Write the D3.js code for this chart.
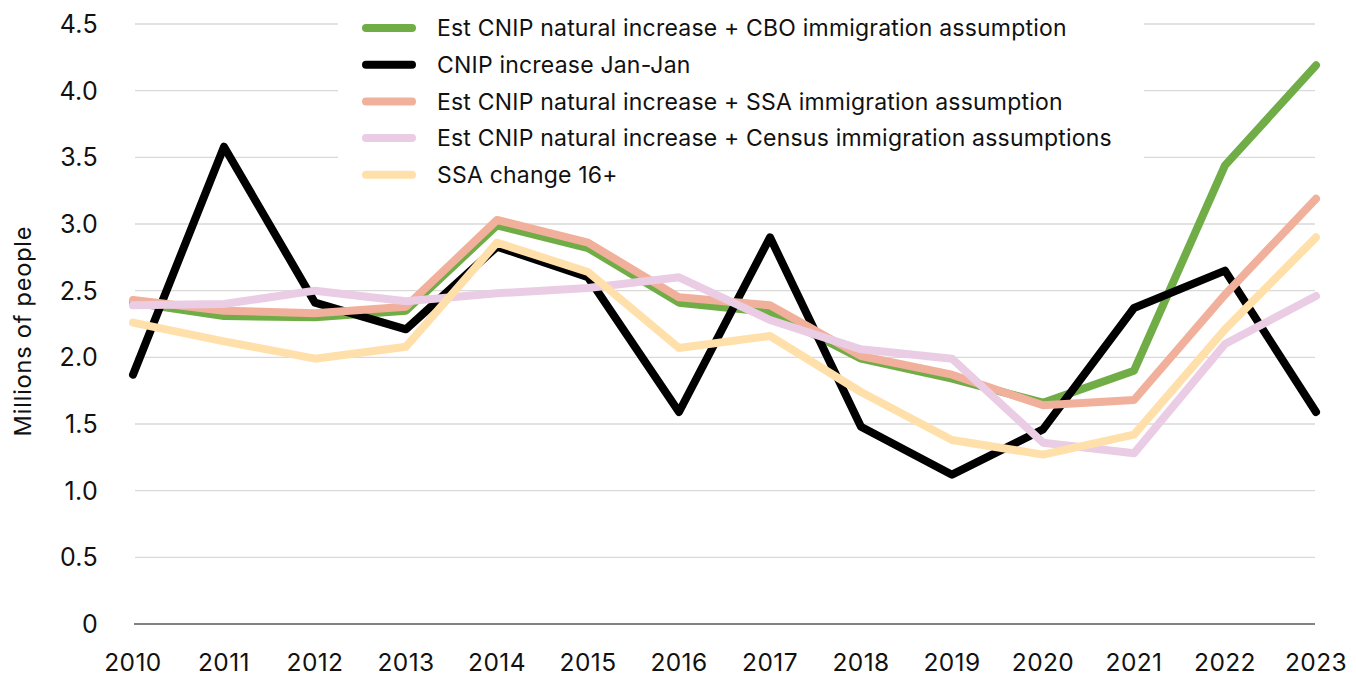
<!DOCTYPE html>
<html>
<head>
<meta charset="utf-8">
<script src="https://cdn.jsdelivr.net/npm/d3@7"></script>
<style>
  body { margin: 0; background: #fff; }
  svg { display: block; }
</style>
</head>
<body>
<div id="chart"></div>
<script>
const years = [2010, 2011, 2012, 2013, 2014, 2015, 2016, 2017, 2018, 2019, 2020, 2021, 2022, 2023];
const yTicks = [0, 0.5, 1, 1.5, 2, 2.5, 3, 3.5, 4, 4.5];

const seriesNames = [
  "Est CNIP natural increase + CBO immigration assumption",
  "CNIP increase Jan-Jan",
  "Est CNIP natural increase + SSA immigration assumption",
  "Est CNIP natural increase + Census immigration assumptions",
  "SSA change 16+"
];
const seriesColors = ["#70ad47", "#000000", "#f1b09b", "#eacde4", "#ffe0aa"];

const cboValues = [2.41, 2.31, 2.30, 2.35, 2.99, 2.82, 2.41, 2.34, 1.99, 1.84, 1.66, 1.90, 3.44, 4.19];
const cnipValues = [1.87, 3.58, 2.41, 2.21, 2.83, 2.60, 1.59, 2.90, 1.48, 1.12, 1.46, 2.37, 2.65, 1.59];
const ssaValues = [2.43, 2.35, 2.33, 2.38, 3.03, 2.86, 2.45, 2.39, 2.01, 1.87, 1.64, 1.68, 2.47, 3.19];
const censusValues = [2.39, 2.40, 2.50, 2.42, 2.48, 2.52, 2.60, 2.28, 2.06, 1.99, 1.36, 1.28, 2.10, 2.46];
const ssa16Values = [2.26, 2.12, 1.99, 2.08, 2.86, 2.64, 2.07, 2.16, 1.74, 1.38, 1.27, 1.42, 2.21, 2.90];

const allValues = [cboValues, cnipValues, ssaValues, censusValues, ssa16Values];

const width = 1356, height = 679;
const fontFamily = "Inter, 'Noto Sans', sans-serif";

const svg = d3.select("#chart").append("svg")
  .attr("width", width)
  .attr("height", height);

const x = d3.scalePoint().domain(years).range([133, 1316]);
const y = d3.scaleLinear().domain([0, 4.5]).range([624, 24]);

// gridlines
svg.append("g")
  .selectAll("line")
  .data(yTicks.filter(d => d > 0))
  .enter()
  .append("line")
  .attr("x1", 135)
  .attr("x2", 1315)
  .attr("y1", d => y(d))
  .attr("y2", d => y(d))
  .attr("stroke", "#d9d9d9")
  .attr("stroke-width", 1.3);

// zero axis
svg.append("line")
  .attr("x1", 134)
  .attr("x2", 1315)
  .attr("y1", y(0))
  .attr("y2", y(0))
  .attr("stroke", "#595959")
  .attr("stroke-width", 1.5);

// y tick labels
svg.append("g")
  .selectAll("text")
  .data(yTicks)
  .enter()
  .append("text")
  .attr("x", 98)
  .attr("y", d => y(d))
  .attr("dy", "0.36em")
  .attr("text-anchor", "end")
  .style("font-family", fontFamily)
  .style("font-size", "25px")
  .style("letter-spacing", "0.3px")
  .style("fill", "#111")
  .text(d => d === 0 ? "0" : d3.format(".1f")(d));

// x tick labels
svg.append("g")
  .selectAll("text")
  .data(years)
  .enter()
  .append("text")
  .attr("x", d => x(d))
  .attr("y", 671)
  .attr("text-anchor", "middle")
  .style("font-family", fontFamily)
  .style("font-size", "24.5px")
  .style("letter-spacing", "0.4px")
  .style("fill", "#111")
  .text(d => d);

// y axis title
svg.append("text")
  .attr("transform", "translate(31,331) rotate(-90)")
  .attr("text-anchor", "middle")
  .style("font-family", fontFamily)
  .style("font-size", "23.5px")
  .style("letter-spacing", "0.8px")
  .style("fill", "#111")
  .text("Millions of people");

// lines
const line = d3.line()
  .x((d, i) => x(years[i]))
  .y(d => y(d));

svg.append("g")
  .selectAll("path")
  .data(allValues)
  .enter()
  .append("path")
  .attr("fill", "none")
  .attr("stroke", (d, i) => seriesColors[i])
  .attr("stroke-width", 8)
  .attr("stroke-linejoin", "round")
  .attr("stroke-linecap", "round")
  .attr("d", line);

// legend
const legend = svg.append("g");
legend.append("rect")
  .attr("x", 338)
  .attr("y", 6)
  .attr("width", 806)
  .attr("height", 190)
  .attr("fill", "#fff");

const legendItem = legend.selectAll("g")
  .data(seriesNames)
  .enter()
  .append("g")
  .attr("transform", (d, i) => `translate(0, ${28 + i * 36.7})`);

legendItem.append("line")
  .attr("x1", 366)
  .attr("x2", 412)
  .attr("stroke", (d, i) => seriesColors[i])
  .attr("stroke-width", 8)
  .attr("stroke-linecap", "round");

legendItem.append("text")
  .attr("x", 437)
  .attr("dy", "0.36em")
  .style("font-family", fontFamily)
  .style("font-size", "23px")
  .style("letter-spacing", "0.2px")
  .style("fill", "#111")
  .text(d => d);
</script>
</body>
</html>
